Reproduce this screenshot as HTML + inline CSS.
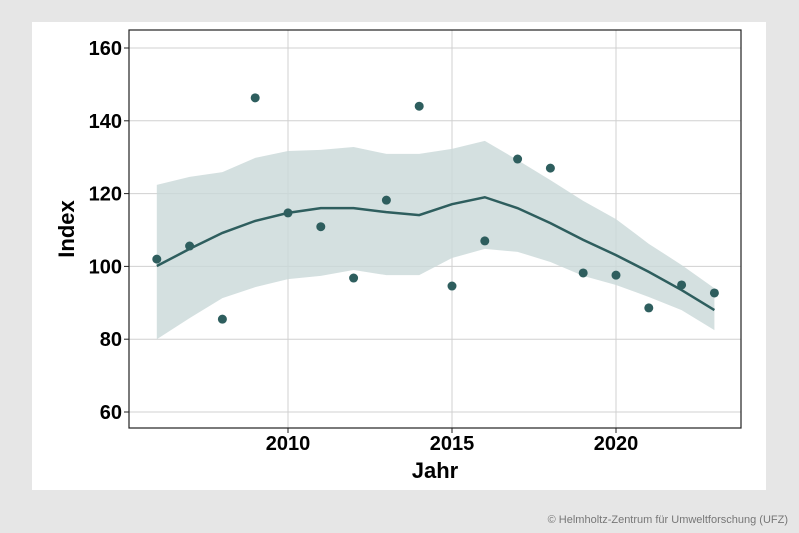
<!DOCTYPE html>
<html><head><meta charset="utf-8"><style>
body{margin:0;width:799px;height:533px;background:#e6e6e6;overflow:hidden;font-family:"Liberation Sans",sans-serif}
#panel{position:absolute;left:32px;top:22px;width:734px;height:468px;background:#fff}
#credit{position:absolute;right:11px;top:514px;font-size:11px;color:#777}
</style></head><body>
<div id="panel"></div>
<svg id="chart" width="799" height="533" style="position:absolute;left:0;top:0"></svg>
<div id="credit">© Helmholtz-Zentrum für Umweltforschung (UFZ)</div>
<script>
const years=[2006,2007,2008,2009,2010,2011,2012,2013,2014,2015,2016,2017,2018,2019,2020,2021,2022,2023];
const points=[102,105.6,85.5,146.3,114.7,110.9,96.8,118.2,144,94.6,107,129.5,127,98.2,97.6,88.6,94.9,92.7];
const trend=[100.1,104.8,109.2,112.5,114.7,116,116,114.9,114.1,117.1,119,116,111.9,107.3,103.1,98.5,93.5,88];
const upper=[122.4,124.6,125.9,129.8,131.7,132,132.8,130.9,130.9,132.3,134.5,129.2,123.7,118,113,106.2,100.4,94];
const lower=[80,85.8,91.3,94.3,96.5,97.4,99,97.6,97.6,102.3,104.8,104,101.2,97.4,94.9,91.6,88,82.5];
const yTicks=[60,80,100,120,140,160];
const xTicks=[2010,2015,2020];
const NS="http://www.w3.org/2000/svg";
const svg=document.getElementById('chart');
const L=129,R=741,T=30,B=428;
const x=v=>288+(v-2010)*32.8;
const y=v=>412-(v-60)*3.64;
function mk(t,a){const e=document.createElementNS(NS,t);for(const k in a)e.setAttribute(k,a[k]);svg.appendChild(e);return e;}
// grid
for(const t of yTicks){const g=mk('line',{x1:L,x2:R,y1:y(t),y2:y(t),stroke:'#d0d0d0','stroke-width':1});

}
for(const t of xTicks){const g=mk('line',{x1:x(t),x2:x(t),y1:T,y2:B,stroke:'#d0d0d0','stroke-width':1});

}
// band
let d='';years.forEach((yr,i)=>{d+=(i?'L':'M')+x(yr)+','+y(upper[i]);});
for(let i=years.length-1;i>=0;i--)d+='L'+x(years[i])+','+y(lower[i]);
const band=mk('path',{d:d+'Z',fill:'#c9d8d8','fill-opacity':0.8});


// trend
let dl='';years.forEach((yr,i)=>{dl+=(i?'L':'M')+x(yr)+','+y(trend[i]);});
const tl=mk('path',{d:dl,fill:'none',stroke:'#2e5e5e','stroke-width':2.5});


// points
years.forEach((yr,i)=>{const c=mk('circle',{cx:x(yr),cy:y(points[i]),r:4.5,fill:'#2e5e5e'});

});
// frame
const fr=mk('rect',{x:L,y:T,width:R-L,height:B-T,fill:'none',stroke:'#222','stroke-width':1.2});


// ticks and labels
for(const t of yTicks){mk('line',{x1:L-5,x2:L,y1:y(t),y2:y(t),stroke:'#222'});
const tx=mk('text',{x:L-7,y:y(t)+7,'text-anchor':'end','font-size':20,'font-weight':'bold',fill:'#000'});tx.textContent=t;

}
for(const t of xTicks){mk('line',{x1:x(t),x2:x(t),y1:B,y2:B+5,stroke:'#222'});
const tx=mk('text',{x:x(t),y:B+22,'text-anchor':'middle','font-size':20,'font-weight':'bold',fill:'#000'});tx.textContent=t;

}
const xt=mk('text',{x:435,y:478,'text-anchor':'middle','font-size':22,'font-weight':'bold',fill:'#000'});xt.textContent='Jahr';


const yt=mk('text',{x:0,y:0,'text-anchor':'middle','font-size':22,'font-weight':'bold',fill:'#000',transform:'translate(74,229) rotate(-90)'});yt.textContent='Index';


</script>
</body></html>
